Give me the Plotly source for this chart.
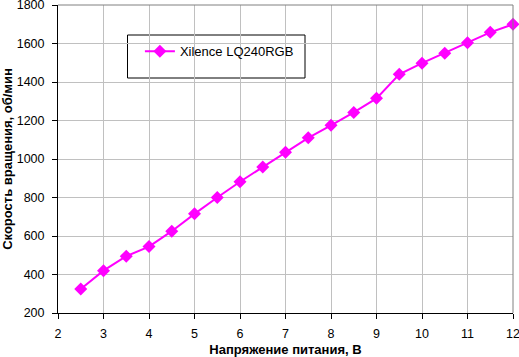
import plotly.graph_objects as go

voltage = [2.5, 3, 3.5, 4, 4.5, 5, 5.5, 6, 6.5, 7, 7.5, 8, 8.5, 9, 9.5, 10, 10.5, 11, 11.5, 12]
rpm = [325, 420, 495, 545, 625, 715, 800, 882, 958, 1035, 1110, 1175, 1242, 1315, 1440, 1498, 1550, 1604, 1658, 1700]
series_name = "Xilence LQ240RGB"
x_title = "Напряжение питания, В"
y_title = "Скорость вращения, об/мин"

fig = go.Figure()
fig.add_trace(go.Scatter(
    x=voltage, y=rpm, mode="lines+markers", name=series_name,
    line=dict(color="#ff00ff", width=2),
    marker=dict(symbol="diamond", size=10, color="#ff00ff"),
    cliponaxis=False,
))

font = "Liberation Sans, Arial, sans-serif"
fig.update_layout(
    width=519, height=357,
    margin=dict(l=58, r=6, t=5, b=44, autoexpand=False),
    paper_bgcolor="white", plot_bgcolor="white",
    font=dict(family=font, size=12.5, color="black"),
    showlegend=True,
    legend=dict(x=0.18, y=0.85, xanchor="left", yanchor="middle",
                bgcolor="rgba(0,0,0,0)", borderwidth=0,
                font=dict(family=font, size=13)),
    shapes=[dict(type="rect", xref="paper", yref="paper",
                 x0=(127.5-58)/455, x1=(305-58)/455,
                 y0=(313-78)/308, y1=(313-35)/308,
                 line=dict(color="black", width=1), fillcolor="white", layer="below")],
)
fig.update_xaxes(
    range=[2, 12], dtick=1, tick0=2, automargin=False, ticklabeloverflow="allow",
    showgrid=True, gridcolor="#c0c0c0", gridwidth=1,
    showline=True, linecolor="black", linewidth=1, mirror=False,
    ticks="outside", ticklen=5, tickcolor="black", ticklabelstandoff=4,
    title=dict(text="<b>" + x_title + "</b>", standoff=8, font=dict(size=13)),
    zeroline=False,
)
fig.update_yaxes(
    range=[200, 1800], dtick=200, automargin=False, ticklabeloverflow="allow",
    showgrid=True, gridcolor="#c0c0c0", gridwidth=1,
    showline=True, linecolor="black", linewidth=1,
    ticks="outside", ticklen=5, tickcolor="black", ticklabelstandoff=5,
    title=dict(text="<b>" + y_title + "</b>", standoff=6, font=dict(size=13)),
    zeroline=False,
)
# grey top/right frame
fig.add_shape(type="line", xref="paper", yref="paper", x0=0, x1=1, y0=1, y1=1,
              line=dict(color="#808080", width=1))
fig.add_shape(type="line", xref="paper", yref="paper", x0=1, x1=1, y0=0, y1=1,
              line=dict(color="#808080", width=1))

fig.write_html("out.html", include_plotlyjs=True, config={"displayModeBar": False},
               post_script="document.body.style.margin='0';document.body.style.overflow='hidden';")
